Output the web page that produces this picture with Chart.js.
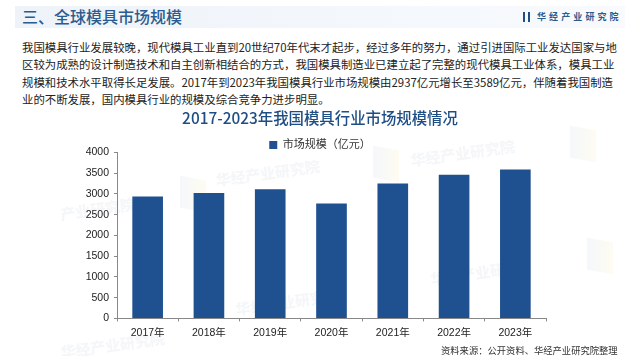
<!DOCTYPE html>
<html>
<head>
<meta charset="utf-8">
<script src="https://cdn.jsdelivr.net/npm/chart.js@4"></script>
<style>
  html, body { margin: 0; padding: 0; background: #fff; }
  #page { position: relative; width: 640px; height: 356px; overflow: hidden; font-family: "Noto Sans CJK SC", sans-serif; }
  #page div { position: absolute; white-space: nowrap; }
  canvas { position: absolute; left: 0; top: 0; }
  #band { left: 15px; top: 6px; width: 610px; height: 22px; background: linear-gradient(90deg, #eef3fa, #f5f8fc 70%, #f8fafd); }
  #heading { left: 22px; top: 4px; font-size: 16px; line-height: 24px; color: #2b5c8f; font-weight: 500; }
  #logo { left: 523px; top: 12px; width: 2px; height: 10px; background: #1f4e85; box-shadow: 5px 0 0 #1f4e85; }
  #brand { left: 537px; top: 10px; font-size: 9px; line-height: 14px; letter-spacing: 3.1px; color: #2b5c8f; font-weight: 700; }
  .para { left: 22px; width: 596px; font-size: 11.4px; line-height: 17px; color: #222; }
  #source { left: 441px; top: 343px; font-size: 9.3px; line-height: 14px; color: #333; }
  .mark { font-size: 15px; font-weight: 700; color: #e6eaf0; opacity: .4; transform: rotate(-8deg); }
  .flag { width: 26px; height: 32px; background: linear-gradient(90deg, #eef2f9, #fdf9e8); opacity: .6; transform: skewY(10deg); }
</style>
</head>
<body>
<div id="page">
  <div class="flag" style="left:180px;top:178px"></div>
  <div class="flag" style="left:373px;top:148px"></div>
  <div class="flag" style="left:587px;top:240px"></div>
  <div class="flag" style="left:570px;top:128px"></div>
  <div class="mark" style="left:215px;top:162px">华经产业研究院</div>
  <div class="mark" style="left:410px;top:142px">华经产业研究院</div>
  <div class="mark" style="left:235px;top:292px">华经产业研究</div>
  <div class="mark" style="left:430px;top:262px">华经产业研究</div>
  <div class="mark" style="left:60px;top:334px">华经产业研究院</div>
  <div class="mark" style="left:60px;top:198px">产业研究院</div>

  <div id="band"></div>
  <div id="heading">三、全球模具市场规模</div>
  <div id="logo"></div>
  <div id="brand">华经产业研究院</div>
  <div class="para" style="top:39px">我国模具行业发展较晚，现代模具工业直到20世纪70年代末才起步，经过多年的努力，通过引进国际工业发达国家与地</div>
  <div class="para" style="top:56px">区较为成熟的设计制造技术和自主创新相结合的方式，我国模具制造业已建立起了完整的现代模具工业体系，模具工业</div>
  <div class="para" style="top:74px">规模和技术水平取得长足发展。2017年到2023年我国模具行业市场规模由2937亿元增长至3589亿元，伴随着我国制造</div>
  <div class="para" style="top:91px">业的不断发展，国内模具行业的规模及综合竞争力进步明显。</div>
  <canvas id="market-chart" width="640" height="356"></canvas>
  <div id="source">资料来源：公开资料、华经产业研究院整理</div>
</div>
<script>
// chart data
const years = ["2017年", "2018年", "2019年", "2020年", "2021年", "2022年", "2023年"]
const market_size = [2937, 3026, 3114, 2770, 3250, 3465, 3589]
const y_ticks = [0, 500, 1000, 1500, 2000, 2500, 3000, 3500, 4000]
const series_name = "市场规模（亿元）"
const chart_title = "2017-2023年我国模具行业市场规模情况"

const cjk = '"Liberation Sans", "Noto Sans CJK SC", sans-serif'

// title and legend don't sit over the plot in the picture, so move them after layout
const move_boxes = {
  id: 'moveBoxes',
  afterLayout(chart) {
    chart.titleBlock.left += 47
    chart.titleBlock.right += 47
    chart.legend.left += 47
    chart.legend.right += 47
    chart.legend.top += 8
    chart.legend.bottom += 8
  }
}

new Chart(document.getElementById("market-chart"), {
  type: 'bar',
  data: {
    labels: years,
    datasets: [{
      data: market_size,
      label: series_name,
      backgroundColor: "#1f5090",
      barPercentage: 0.5,
      categoryPercentage: 1
    }]
  },
  plugins: [move_boxes],
  options: {
    responsive: false,
    animation: false,
    layout: { padding: { top: 109, right: 94, bottom: 12, left: 0 } },
    plugins: {
      tooltip: { enabled: false },
      title: {
        display: true,
        text: chart_title,
        color: "#1f4e85",
        font: { family: '"Noto Sans CJK SC", sans-serif', size: 15.4, weight: '500' },
        padding: { top: 0, bottom: 2 }
      },
      legend: {
        display: true,
        position: 'top',
        labels: {
          boxWidth: 8,
          boxHeight: 8,
          padding: 2,
          color: "#333",
          font: { family: cjk, size: 11 }
        }
      }
    },
    scales: {
      x: {
        grid: { display: true, drawOnChartArea: false, drawTicks: true, tickLength: 3, color: "#888" },
        border: { color: "#888" },
        ticks: { color: "#222", font: { family: cjk, size: 10.5 }, maxRotation: 0, padding: 5 }
      },
      y: {
        min: 0,
        max: 4000,
        afterFit(scale) { scale.width = 117 },
        afterBuildTicks(scale) { scale.ticks = y_ticks.map(v => ({ value: v })) },
        grid: { display: true, drawOnChartArea: false, drawTicks: true, tickLength: 3, color: "#888" },
        border: { color: "#888" },
        ticks: {
          color: "#222",
          font: { family: cjk, size: 10.5 },
          padding: 5,
          callback: v => String(v)
        }
      }
    }
  }
})
</script>
</body>
</html>
